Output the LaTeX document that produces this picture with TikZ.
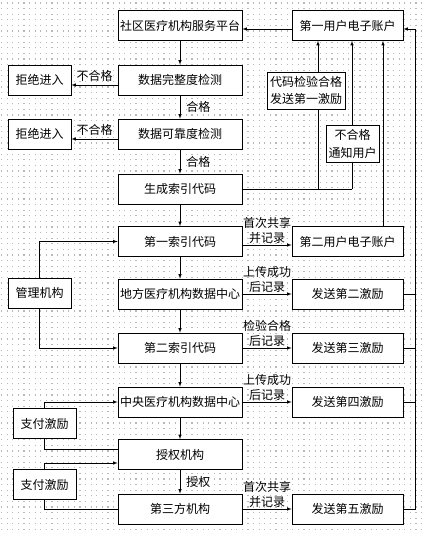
\documentclass[tikz,border=0pt]{standalone}
\usepackage{fontspec}
\newfontfamily\cjk{Noto Sans CJK SC}
\usepackage{tikz}
\usetikzlibrary{calc,positioning}

\tikzset{%
  >=latex, % small filled arrow heads
  every node/.style={font=\cjk\fontsize{12}{15}\selectfont},
  box/.style={draw,fill=white,line width=0.7pt,minimum height=30,inner sep=0pt},
  mid box/.style={box,minimum width=124},
  right box/.style={box,minimum width=111},
  left box/.style={box,minimum width=63},
  note box/.style={draw,fill=white,line width=0.7pt,align=center,inner sep=0pt,
    minimum height=37,font=\cjk\fontsize{12}{17.5}\selectfont},
  flow/.style={->,line width=0.6pt},
  link/.style={line width=0.6pt},
  lbl/.style={align=center,inner sep=1pt}
}

\begin{document}
\begin{tikzpicture}[x=1pt,y=-1pt]
    \useasboundingbox (0,0) rectangle (422,534);
    % dotted drawing grid
    \foreach \gy in {3,8.6,...,534} {
      \draw[black!28,line width=1.1pt,dash pattern=on 1.1pt off 4.5pt] (1,\gy) -- (422,\gy);
    }

    \def\xm{180}   % middle column
    \def\xr{347.5} % right column
    \def\xl{39.5}  % left column

    % middle column
    \node[mid box] (plat)    at (\xm,25.5) {社区医疗机构服务平台};
    \node[mid box] (full)    at (\xm,80)   {数据完整度检测};
    \node[mid box] (rely)    at (\xm,134)  {数据可靠度检测};
    \node[mid box] (gen)     at (\xm,189)  {生成索引代码};
    \node[mid box] (idxA)    at (\xm,241.5){第一索引代码};
    \node[mid box] (local)   at (\xm,294)  {地方医疗机构数据中心};
    \node[mid box] (idxB)    at (\xm,348)  {第二索引代码};
    \node[mid box] (central) at (\xm,402)  {中央医疗机构数据中心};
    \node[mid box] (auth)    at (\xm,454.5){授权机构};
    \node[mid box] (third)   at (\xm,509)  {第三方机构};

    % right column
    \node[right box] (userA) at (\xr,25.5) {第一用户电子账户};
    \node[right box] (userB) at (\xr,241.5){第二用户电子账户};
    \node[right box] (rewB)  at (\xr,294)  {发送第二激励};
    \node[right box] (rewC)  at (\xr,348)  {发送第三激励};
    \node[right box] (rewD)  at (\xr,402)  {发送第四激励};
    \node[right box] (rewE)  at (\xr,509)  {发送第五激励};

    % left column
    \node[left box] (rejA) at (\xl,80)  {拒绝进入};
    \node[left box] (rejB) at (\xl,134) {拒绝进入};
    \node[left box] (mgmt) at (\xl,293) {管理机构};
    \node[left box] (payA) at (44.5,423.5) {支付激励};
    \node[left box] (payB) at (44.5,484.5) {支付激励};

    % down the middle
    \draw[flow] (plat) -- (full);
    \draw[flow] (full) -- node[right=5pt,lbl]{合格} (rely);
    \draw[flow] (rely) -- node[right=5pt,lbl]{合格} (gen);
    \foreach \a/\b in {gen/idxA,idxA/local,local/idxB,idxB/central,central/auth}
      \draw[flow] (\a) -- (\b);
    \draw[flow] (auth) -- node[right=5pt,lbl]{授权} (third);

    % refused data
    \draw[flow] ([yshift=-5]full.west) -- node[above=2pt,lbl]{不合格} ([yshift=-5]rejA.east);
    \draw[flow] ([yshift=-5]rely.west) -- node[above=2pt,lbl]{不合格} ([yshift=-5]rejB.east);

    % records to the right
    \draw[flow] ([yshift=-3.5]idxA.east) -- node[above,lbl]{首次共享\\并记录} ([yshift=-3.5]userB.west);
    \draw[flow] (local.east) -- node[above,lbl]{上传成功\\后记录} (rewB.west);
    \draw[flow] (idxB.east) -- node[above,lbl]{检验合格\\后记录} (rewC.west);
    \draw[flow] (central.east) -- node[above,lbl]{上传成功\\后记录} (rewD.west);
    \draw[flow] (third.east) -- node[above,lbl]{首次共享\\并记录} (rewE.west);

    % back to the first user account
    \draw[flow] ([yshift=-3.5]userA.west) -- ([yshift=-3.5]plat.east);
    \coordinate (jA) at (318,189);
    \coordinate (jB) at (352,189);
    \draw[link] (gen.east) -- (jB);
    \draw[flow] (jA) -- (jA |- userA.south);
    \draw[flow] (jB) -- (jB |- userA.south);
    \draw[flow] ([xshift=35.5]userB.north) -- ([xshift=35.5]userA.south);
    \coordinate (bus) at (415,29);
    \foreach \r in {rewB,rewC,rewD}
      \draw[link] (\r.east) -- (\r.east -| bus);
    \draw[flow] (rewE.east) -| (bus) -- ([yshift=-3.5]userA.east);

    % notes on the return lines
    \node[note box,minimum width=78] (codeOK) at (306,90.5) {代码检验合格\\发送第一激励};
    \node[note box,minimum width=53] (notOK) at (352.5,144) {不合格\\通知用户};

    % left side
    \draw[flow] (mgmt.north) |- (idxA.west);
    \draw[flow] (mgmt.south) |- (idxB.west);
    \draw[flow] (payA.north) |- (central.west);
    \draw[link] ([yshift=5.5]auth.west) -| (payA.south);
    \draw[flow] (payB.north) |- ([yshift=-8.5]auth.west);
    \draw[link] (third.west) -| (payB.south);
\end{tikzpicture}
\end{document}
